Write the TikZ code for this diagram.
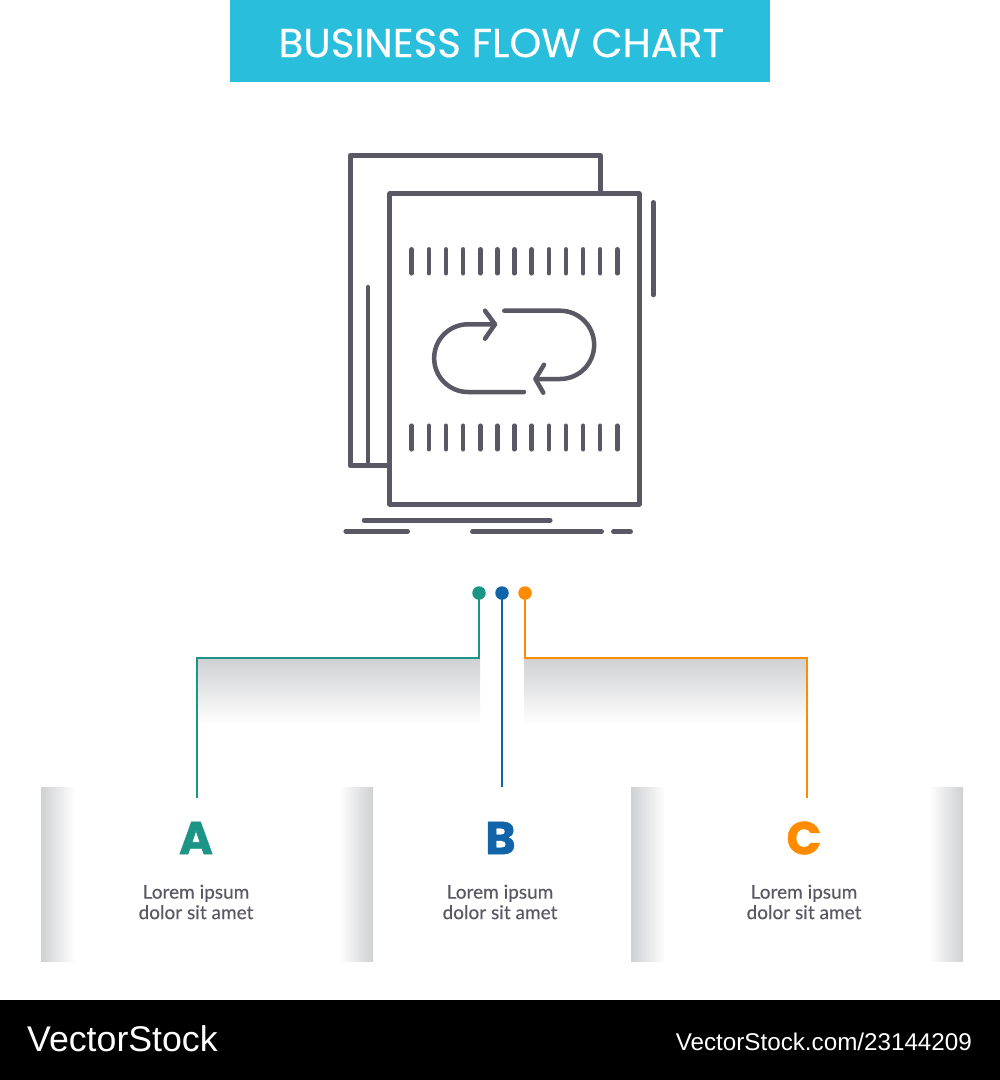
\documentclass[tikz,border=0pt]{standalone}
\usepackage{fontspec}
\setmainfont{Lato}[FakeBold=0.25]
\newfontfamily\popfont{Poppins}
\newfontfamily\popheavy{Poppins}[FakeBold=1.2,Weight=Bold,BoldFont={Poppins},UprightFont={* Bold}]
\newfontfamily\poptitle{Poppins}[FakeBold=0.3]
\newfontfamily\logofont{Liberation Sans}
\definecolor{hdr}{HTML}{29BEDB}
\definecolor{ink}{HTML}{5B5866}
\definecolor{txt}{HTML}{5B5866}
\definecolor{teal}{HTML}{1C9486}
\definecolor{blu}{HTML}{1264A8}
\definecolor{org}{HTML}{FF8C00}
\definecolor{shade}{HTML}{CFD0D2}
\definecolor{midshade}{HTML}{F2F2F3}
\tikzset{
 icon/.style={draw=ink,line width=4.5pt,line join=round,line cap=round},
 wire/.style={line width=1.7pt},
 dot/.style={circle,inner sep=0pt,minimum size=13.5pt},
 letter/.style={font=\popheavy\fontsize{46}{46}\selectfont,inner sep=0pt},
 body/.style={font=\fontsize{19}{20.5}\selectfont,text=txt,align=center,inner sep=0pt},
}
\begin{document}
\begin{tikzpicture}[x=1pt,y=-1pt]
\useasboundingbox (0,0) rectangle (1000,1080);
\fill[white] (0,0) rectangle (1000,1080);
% header
\fill[hdr] (230,0) rectangle (770,82);
\node[text=white,font=\poptitle\fontsize{40.4}{40}\selectfont,inner sep=0pt] (title) at (501.5,43) {BUSINESS FLOW CHART};
% icon
\draw[icon] (389.7,465.7) -- (350.3,465.7) -- (350.3,155.3) -- (600.3,155.3) -- (600.3,193.7);
\draw[icon] (389.7,193.7) rectangle (639.3,504.3);
\draw[icon] (653.3,202.3) -- (653.3,295);
\draw[icon] (368,287) -- (368,465.7);
\foreach \i in {0,...,12}{
  \draw[icon] ({411.7+17.14*\i},249.3) -- ({411.7+17.14*\i},273.3);
  \draw[icon] ({411.7+17.14*\i},425.7) -- ({411.7+17.14*\i},449.3);
}
\draw[icon] (504.3,310.7) -- (560,310.7) .. controls (578.9,310.7) and (594.15,326) .. (594.15,344.85) .. controls (594.15,363.7) and (578.9,379) .. (560,379) -- (535.7,379);
\draw[icon] (544,364.7) -- (535.4,379) -- (543.3,392.7);
\draw[icon] (524,392) -- (468,392) .. controls (449.3,392) and (434.15,376.85) .. (434.15,358.15) .. controls (434.15,339.45) and (449.3,324.3) .. (468,324.3) -- (495,324.3);
\draw[icon] (485,310.7) -- (495,324.3) -- (485,338.7);
\draw[icon] (364,520.3) -- (550.3,520.3);
\draw[icon] (345.7,531.3) -- (407.7,531.3);
\draw[icon] (472.3,531.7) -- (601.7,531.7);
\draw[icon] (613.3,531.7) -- (630.7,531.7);
% grey shadows
\shade[top color=shade,middle color=midshade,bottom color=white] (197,658) rectangle (480,724);
\shade[top color=shade,middle color=midshade,bottom color=white] (524,658) rectangle (807,724);
\shade[left color=shade,middle color=midshade,right color=white] (41,787) rectangle (75,961);
\shade[left color=white,middle color=midshade,right color=shade] (339,787) rectangle (373,961);
\shade[left color=shade,middle color=midshade,right color=white] (631,787) rectangle (665,961);
\shade[left color=white,middle color=midshade,right color=shade] (929,787) rectangle (963,961);
% dots and wires
\node[dot,fill=teal] (da) at (479,593) {};
\node[dot,fill=blu] (db) at (502,593) {};
\node[dot,fill=org] (dc) at (525,593) {};
\coordinate (ea) at (197,797.5);
\coordinate (eb) at (502,787);
\coordinate (ec) at (807,797.5);
\draw[wire,draw=teal] (da.center) -- (479,658) -- (197,658) -- (ea);
\draw[wire,draw=blu] (db.center) -- (eb);
\draw[wire,draw=org] (dc.center) -- (525,658) -- (807,658) -- (ec);
% letters
\node[letter,text=teal] (la) at (196,838) {A};
\node[letter,text=blu] (lb) at (500.5,838) {B};
\node[letter,text=org] (lc) at (804,838) {C};
\node[body] (ta) at (196,902) {Lorem ipsum\\dolor sit amet};
\node[body] (tb) at (500,902) {Lorem ipsum\\dolor sit amet};
\node[body] (tc) at (804,902) {Lorem ipsum\\dolor sit amet};
% footer
\fill[black] (0,1000) rectangle (1000,1080);
\node[anchor=base west,text=white,font=\logofont\fontsize{35.7}{35}\selectfont,inner sep=0pt] (logo) at (27,1051.5) {VectorStock};
\node[anchor=base east,text=white,font=\logofont\fontsize{24.2}{24}\selectfont,inner sep=0pt] (url) at (972,1050.5) {VectorStock.com/23144209};
\end{tikzpicture}
\end{document}
